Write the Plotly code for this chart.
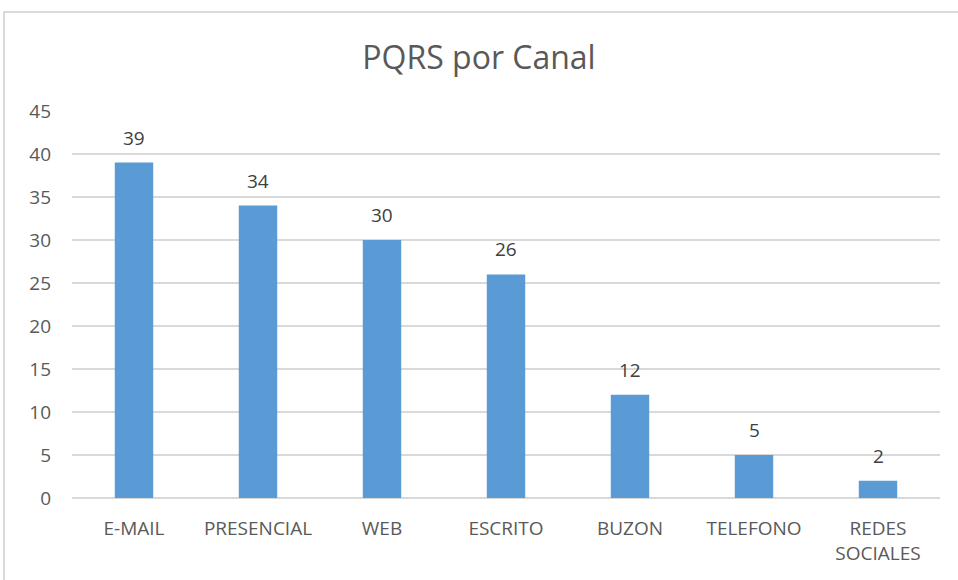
import plotly.graph_objects as go

categories = ["E-MAIL", "PRESENCIAL", "WEB", "ESCRITO", "BUZON", "TELEFONO", "REDES<br>SOCIALES"]
values = [39, 34, 30, 26, 12, 5, 2]
y_ticks = [0, 5, 10, 15, 20, 25, 30, 35, 40, 45]

FONT = "Open Sans"
TXT = "#595959"

fig = go.Figure(go.Bar(
    x=categories, y=values,
    marker=dict(color="#5B9BD5", line=dict(width=0)),
    hoverinfo="x+y",
))

for c, v in zip(categories, values):
    fig.add_annotation(x=c, y=v, text=str(v), showarrow=False, yanchor="bottom", yshift=10,
                       font=dict(size=19, color="#404040", family=FONT))

L, R, T, B = 72, 18, 111, 82
W, H = 958, 580
pw, ph = W - L - R, H - T - B

fig.add_shape(type="rect", xref="paper", yref="paper",
              x0=(4 - L) / pw, x1=(975 - L) / pw,
              y0=(H - B - 600) / ph, y1=(H - B - 12) / ph,
              line=dict(color="#D9D9D9", width=2), fillcolor="rgba(0,0,0,0)", layer="below")

fig.update_layout(
    width=W, height=H,
    margin=dict(l=L, r=R, t=T, b=B),
    paper_bgcolor="white", plot_bgcolor="white",
    bargap=0.69,
    showlegend=False,
    title=dict(text="PQRS por Canal", x=0.5, xanchor="center", y=1 - 58 / H, yanchor="middle",
               font=dict(size=32, color=TXT, family=FONT)),
    font=dict(family=FONT, color=TXT),
    yaxis=dict(range=[0, 45], tickvals=y_ticks, showgrid=True, gridcolor="#D9D9D9", gridwidth=1.5,
               zeroline=True, zerolinecolor="#D9D9D9", zerolinewidth=1.5, showline=False,
               tickfont=dict(size=19, color=TXT), ticklabelstandoff=20),
    xaxis=dict(showline=False, tickfont=dict(size=19, color=TXT), ticklabelstandoff=17),
)

fig.write_html("out.html", config={"displayModeBar": False},
               post_script="document.body.style.margin='0';document.body.style.padding='0';")
